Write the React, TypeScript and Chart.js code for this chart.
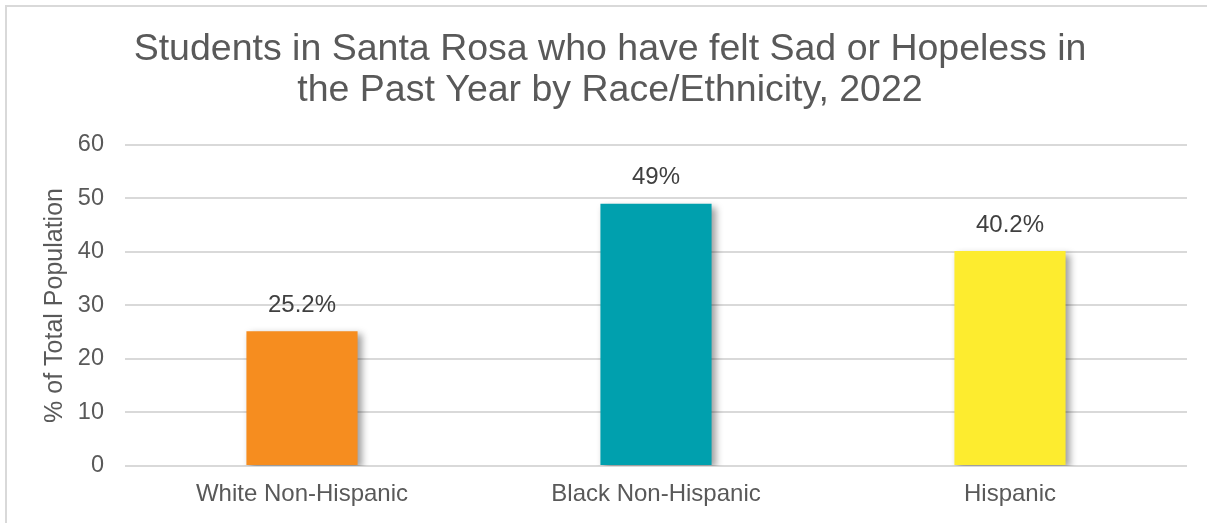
import React, { useEffect, useRef } from "react";
import { Chart, registerables } from "chart.js";

Chart.register(...registerables);

const categories = ["White Non-Hispanic", "Black Non-Hispanic", "Hispanic"];
const values = [25.2, 49, 40.2];
const barColors = ["#F68D1F", "#00A0AE", "#FDEC2F"];
const yMin = 0;
const yMax = 60;
const yStep = 10;
const titleLines = [
  "Students in Santa Rosa who have felt Sad or Hopeless in",
  "the Past Year by Race/Ethnicity, 2022",
];
const yAxisTitle = "% of Total Population";

const FONT = '"Liberation Sans", Arial, Helvetica, sans-serif';

const shadowAndLabels = {
  id: "shadowAndLabels",
  beforeDatasetsDraw(chart: any) {
    const ctx = chart.ctx;
    ctx.save();
    ctx.shadowColor = "rgba(0,0,0,0.38)";
    ctx.shadowBlur = 7;
    ctx.shadowOffsetX = 4;
    ctx.shadowOffsetY = 3;
  },
  afterDatasetsDraw(chart: any) {
    const ctx = chart.ctx;
    ctx.restore();
    const meta = chart.getDatasetMeta(0);
    ctx.save();
    ctx.font = `24px ${FONT}`;
    ctx.fillStyle = "#404040";
    ctx.textAlign = "center";
    ctx.textBaseline = "middle";
    meta.data.forEach((bar: any, i: number) => {
      ctx.fillText(`${values[i]}%`, bar.x, bar.y - 26);
    });
    ctx.restore();
  },
};

export default function App() {
  const canvasRef = useRef<HTMLCanvasElement | null>(null);

  useEffect(() => {
    if (!canvasRef.current) return;
    const chart = new Chart(canvasRef.current, {
      type: "bar",
      data: {
        labels: categories,
        datasets: [
          {
            data: values,
            backgroundColor: barColors,
            borderWidth: 0,
            barPercentage: 1,
            categoryPercentage: 0.314,
          },
        ],
      },
      options: {
        responsive: false,
        animation: false,
        devicePixelRatio: 1,
        layout: { padding: { left: 33, right: 20, top: 0, bottom: 0 } },
        plugins: {
          legend: { display: false },
          tooltip: { enabled: false },
          title: {
            display: true,
            text: titleLines,
            color: "#595959",
            font: { family: FONT, size: 37.5, weight: "normal", lineHeight: 1.093 },
            padding: { top: 29.5, bottom: 33.5 },
          },
        },
        scales: {
          x: {
            grid: { display: false, drawTicks: false },
            border: { display: false },
            ticks: {
              color: "#595959",
              font: { family: FONT, size: 24 },
              padding: 14,
              maxRotation: 0,
              autoSkip: false,
            },
            afterFit(scale: any) {
              scale.height = 57;
            },
          },
          y: {
            min: yMin,
            max: yMax,
            grid: { color: "#d9d9d9", lineWidth: 2, drawTicks: false },
            border: { display: false },
            ticks: {
              stepSize: yStep,
              color: "#595959",
              font: { family: FONT, size: 23.5 },
              padding: 21,
            },
            title: {
              display: true,
              text: yAxisTitle,
              color: "#595959",
              font: { family: FONT, size: 25, weight: "normal" },
              padding: { top: 7, bottom: 0 },
            },
            afterFit(scale: any) {
              scale.width = 92;
            },
          },
        },
      },
      plugins: [shadowAndLabels],
    });
    return () => chart.destroy();
  }, []);

  return (
    <div
      style={{
        position: "fixed",
        left: 0,
        top: 0,
        width: 1207,
        height: 523,
        overflow: "hidden",
        background: "#ffffff",
      }}
    >
      <div
        style={{
          position: "absolute",
          left: 5,
          top: 5,
          width: 1220,
          height: 540,
          border: "2px solid #d9d9d9",
          boxSizing: "border-box",
        }}
      />
      <canvas
        ref={canvasRef}
        width={1207}
        height={523}
        style={{ position: "absolute", left: 0, top: 0, width: 1207, height: 523 }}
      />
    </div>
  );
}
